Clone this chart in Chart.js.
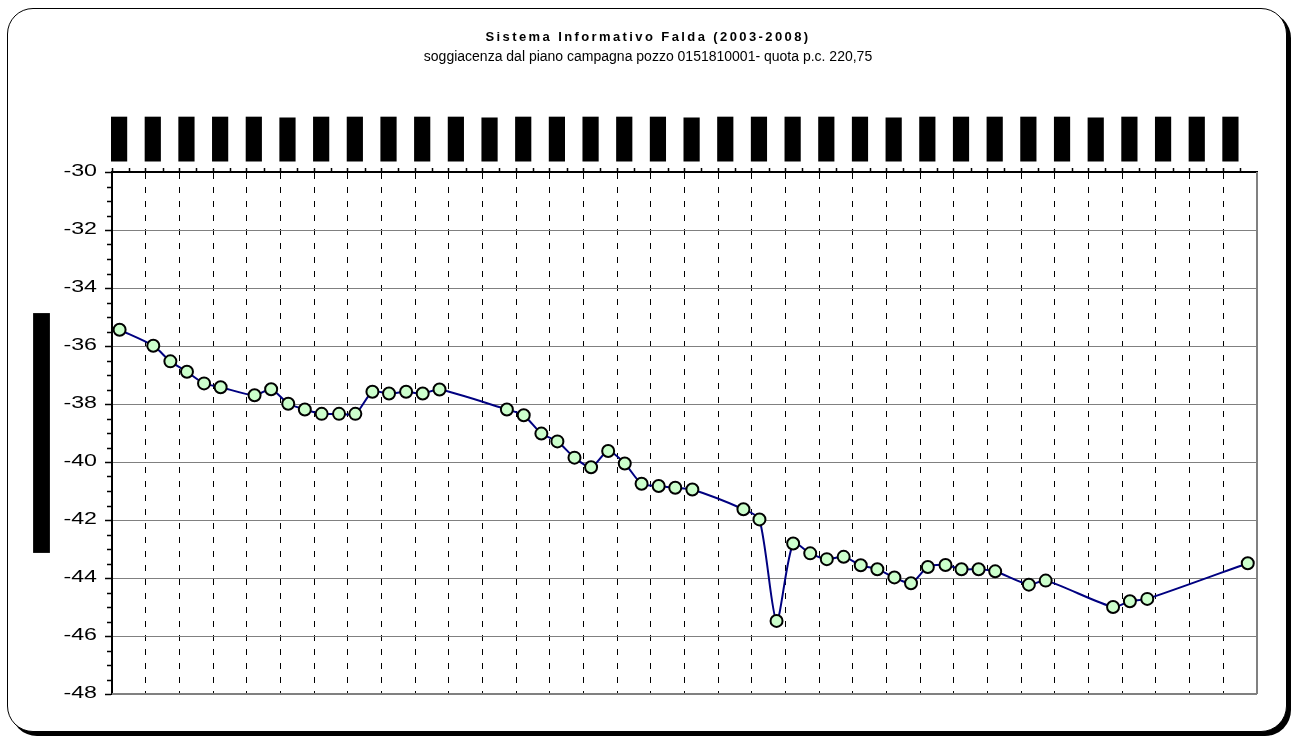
<!DOCTYPE html>
<html>
<head>
<meta charset="utf-8">
<script src="https://cdn.jsdelivr.net/npm/chart.js@4.4.0/dist/chart.umd.min.js"></script>
<style>
  html, body { margin:0; padding:0; background:#fff; width:1298px; height:738px; overflow:hidden; }
  #frame { position:absolute; left:7px; top:8px; width:1278px; height:722px; border:1.5px solid #000; border-radius:26px; box-shadow:4px 4px 0 #000; background:#fff; }
  #wrap { position:absolute; left:0; top:0; width:1298px; height:738px; }
</style>
</head>
<body>
<div id="frame"></div>
<div id="wrap"><canvas id="c" width="1298" height="738"></canvas></div>
<script>
// ---------------- DATA ----------------
const titleText = 'Sistema Informativo Falda (2003-2008)';
const subtitleText = 'soggiacenza dal piano campagna pozzo 0151810001- quota p.c. 220,75';
const yAxisTitle = 'Soggiacenza dal piano campagna (m)';

const measureDates = [
  '15/01/2003','15/03/2003','15/04/2003','15/05/2003','15/06/2003','15/07/2003',
  '15/09/2003','15/10/2003','15/11/2003','15/12/2003',
  '15/01/2004','15/02/2004','15/03/2004','15/04/2004','15/05/2004','15/06/2004','15/07/2004','15/08/2004',
  '15/12/2004',
  '15/01/2005','15/02/2005','15/03/2005','15/04/2005','15/05/2005','15/06/2005','15/07/2005','15/08/2005','15/09/2005','15/10/2005','15/11/2005',
  '15/02/2006','15/03/2006','15/04/2006','15/05/2006','15/06/2006','15/07/2006','15/08/2006','15/09/2006','15/10/2006','15/11/2006','15/12/2006',
  '15/01/2007','15/02/2007','15/03/2007','15/04/2007','15/05/2007','15/07/2007','15/08/2007','15/12/2007',
  '15/01/2008','15/02/2008','15/08/2008'
];

const depths = [
  -35.44, -35.99, -36.53, -36.89, -37.29, -37.42,
  -37.70, -37.49, -37.99, -38.19,
  -38.34, -38.34, -38.34, -37.58, -37.64, -37.58, -37.64, -37.50,
  -38.19,
  -38.39, -39.02, -39.29, -39.85, -40.18, -39.62, -40.05, -40.75, -40.83, -40.89, -40.95,
  -41.63, -41.98, -45.48, -42.81, -43.15, -43.35, -43.27, -43.56, -43.70, -43.98, -44.18,
  -43.62, -43.55, -43.70, -43.70, -43.77, -44.23, -44.09, -45.00,
  -44.80, -44.72, -43.49
];

const xTickLabels = [
  '01/01/03','01/03/03','01/05/03','01/07/03','01/09/03','01/11/03',
  '01/01/04','01/03/04','01/05/04','01/07/04','01/09/04','01/11/04',
  '01/01/05','01/03/05','01/05/05','01/07/05','01/09/05','01/11/05',
  '01/01/06','01/03/06','01/05/06','01/07/06','01/09/06','01/11/06',
  '01/01/07','01/03/07','01/05/07','01/07/07','01/09/07','01/11/07',
  '01/01/08','01/03/08','01/05/08','01/07/08'
];

const yTickValues = [-30, -32, -34, -36, -38, -40, -42, -44, -46, -48];

// ------------- helpers -------------
const START_YEAR = 2003;
function dateToMonths(s) {
  const [d, m, y] = s.split('/').map(Number);
  const dim = new Date(y, m, 0).getDate();
  return (y - START_YEAR) * 12 + (m - 1) + (d - 1) / dim;
}
const X_MAX = xTickLabels.length * 2;
const FONT = "'Liberation Sans', Arial, sans-serif";
Chart.defaults.font.family = FONT;
Chart.defaults.color = '#000';

const points = measureDates.map((d, i) => ({ x: dateToMonths(d), y: depths[i] }));

function wrapMethod(obj, method, before) {
  if (obj['_w_' + method]) return;
  const orig = obj[method].bind(obj);
  obj[method] = function(...args) { const ctx = obj.ctx; ctx.save(); before(ctx); orig(...args); ctx.restore(); };
  obj['_w_' + method] = true;
}

const decorPlugin = {
  id: 'decor',
  beforeDraw(chart) {
    const ctx = chart.ctx;
    chart.boxes.forEach(b => {
      if (b.options && b.options.text === titleText) wrapMethod(b, 'draw', c => { c.letterSpacing = '2.4px'; });
    });
    const ys = chart.scales.y;
    const anchor = ys.right - ys.options.grid.tickLength - ys.options.ticks.padding;
    wrapMethod(ys, 'drawLabels', c => { c.translate(anchor, 0); c.scale(1.45, 1); c.translate(-anchor, 0); });
    // redacted y-axis title background
    const t = ys.options.title;
    const f = Chart.helpers.toFont(t.font);
    const pad = Chart.helpers.toPadding(t.padding);
    ctx.save();
    ctx.font = f.string;
    const w = ctx.measureText(t.text).width;
    const cx = ys.left + f.lineHeight / 2 + pad.top;
    const cy = (ys.top + ys.bottom) / 2;
    ctx.fillStyle = '#000';
    ctx.fillRect(cx - f.lineHeight / 2, cy - w / 2 - 2, f.lineHeight, w + 4);
    ctx.restore();
  },
  afterDraw(chart) {
    const ctx = chart.ctx;
    const {left, right, top, bottom} = chart.chartArea;
    const xs = chart.scales.x, ys = chart.scales.y;
    ctx.save();
    ctx.strokeStyle = '#808080';
    ctx.lineWidth = 2;
    ctx.beginPath();
    ctx.moveTo(right, top); ctx.lineTo(right, bottom);
    ctx.moveTo(left, bottom); ctx.lineTo(right, bottom);
    ctx.stroke();
    ctx.strokeStyle = '#000';
    ctx.lineWidth = 1.5;
    ctx.beginPath();
    for (let v = ys.min + 0.5; v < ys.max; v += 0.5) {
      if (Math.abs(v / 2 - Math.round(v / 2)) < 1e-6) continue;
      const py = Math.round(ys.getPixelForValue(v)) + 0.5;
      ctx.moveTo(left - 5, py); ctx.lineTo(left, py);
    }
    for (let v = 1; v < xs.max; v += 2) {
      const px = Math.round(xs.getPixelForValue(v)) + 0.5;
      ctx.moveTo(px, top - 4); ctx.lineTo(px, top);
    }
    ctx.stroke();
    ctx.restore();
  }
};

new Chart(document.getElementById('c'), {
  type: 'line',
  data: {
    datasets: [{
      data: points,
      borderColor: '#000080',
      borderWidth: 2,
      pointBackgroundColor: '#CCFFCC',
      pointBorderColor: '#000',
      pointBorderWidth: 2,
      pointRadius: 6,
      pointHoverRadius: 6,
      tension: 0.25,
      clip: false
    }]
  },
  options: {
    responsive: false,
    animation: false,
    layout: { padding: { left: 39, right: 41, top: 0, bottom: 44 } },
    plugins: {
      legend: { display: false },
      tooltip: { enabled: false },
      title: {
        display: true, text: titleText, color: '#000',
        font: { family: FONT, size: 13, weight: 'bold', lineHeight: 1 },
        padding: { top: 30.5, bottom: 0 }
      },
      subtitle: {
        display: true, text: subtitleText, color: '#000',
        font: { family: FONT, size: 14, lineHeight: 1 },
        padding: { top: 6.5, bottom: 0 }
      }
    },
    scales: {
      x: {
        type: 'linear', position: 'top', min: 0, max: X_MAX,
        afterBuildTicks: s => { s.ticks = s.ticks.filter(t => t.value < X_MAX); },
        afterFit: s => { s.height = 108; },
        ticks: {
          stepSize: 2, autoSkip: false, minRotation: 90, maxRotation: 90,
          font: { family: FONT, size: 11 }, color: '#000',
          padding: 7.5, labelOffset: 13.7,
          showLabelBackdrop: true, backdropColor: '#000',
          backdropPadding: { top: 1.5, bottom: 1.5, left: 1, right: 1 },
          callback: v => xTickLabels[Math.round(v / 2)]
        },
        grid: { color: '#000', lineWidth: 1, tickLength: 4, tickColor: '#000', tickWidth: 1.5, tickBorderDash: [] },
        border: { color: '#000', width: 2, dash: [6, 8] }
      },
      y: {
        min: -48, max: -30, position: 'left',
        afterBuildTicks: s => { s.ticks = yTickValues.map(v => ({ value: v })); },
        afterFit: s => { s.width = 73; },
        ticks: { font: { family: FONT, size: 16 }, color: '#000', padding: 8 },
        grid: { color: '#808080', lineWidth: 1, tickLength: 7, tickColor: '#000', tickWidth: 1.5 },
        border: { color: '#000', width: 2 },
        title: {
          display: true, text: yAxisTitle, color: '#000',
          font: { family: FONT, size: 14, lineHeight: 1.2 },
          padding: { top: -5.9, bottom: 0 }
        }
      }
    }
  },
  plugins: [decorPlugin]
});
</script>
</body>
</html>
